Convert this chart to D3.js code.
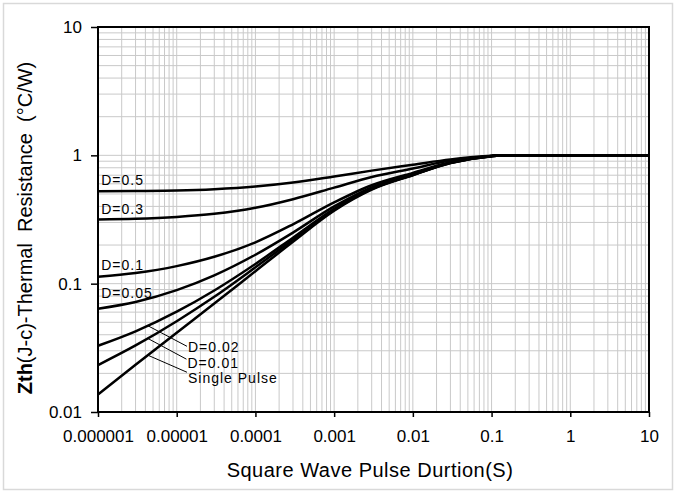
<!DOCTYPE html>
<html>
<head>
<meta charset="utf-8">
<title>Transient thermal impedance</title>
<script src="https://cdnjs.cloudflare.com/ajax/libs/d3/7.8.5/d3.min.js"></script>
<style>
body{
margin:0;
background:#fff
}
svg{
display:block;
font-family:"Liberation Sans", Arial, sans-serif
}
</style>
</head>
<body>
<svg width="676" height="493"></svg>

<script>

// pulse width (s)
var times = [0.000001, 0.000003, 0.00001, 0.00003, 0.0001, 0.0003, 0.001, 0.003, 0.01, 0.03, 0.1, 0.15, 1, 10]

// Zth (°C/W)
var d05    = [0.524, 0.527, 0.532, 0.545, 0.572, 0.615, 0.685, 0.76, 0.845, 0.93, 0.993, 1, 1, 1]
var d03    = [0.316, 0.32, 0.331, 0.35, 0.39, 0.455, 0.56, 0.677, 0.79, 0.91, 0.99, 1, 1, 1]
var d01    = [0.113, 0.121, 0.137, 0.162, 0.21, 0.29, 0.43, 0.585, 0.73, 0.883, 0.987, 1, 1, 1]
var d005   = [0.0638, 0.072, 0.089, 0.116, 0.168, 0.25, 0.40, 0.563, 0.715, 0.877, 0.986, 1, 1, 1]
var d002   = [0.0328, 0.0425, 0.0605, 0.0885, 0.1425, 0.228, 0.383, 0.55, 0.706, 0.873, 0.985, 1, 1, 1]
var d001   = [0.0232, 0.033, 0.051, 0.079, 0.134, 0.22, 0.376, 0.545, 0.703, 0.871, 0.985, 1, 1, 1]
var single = [0.0137, 0.0233, 0.0415, 0.070, 0.125, 0.212, 0.37, 0.54, 0.70, 0.87, 0.985, 1, 1, 1]

var seriesNames = ["D=0.5", "D=0.3", "D=0.1", "D=0.05", "D=0.02", "D=0.01", "Single Pulse"]
var seriesValues = [d05, d03, d01, d005, d002, d001, single]

var xTicks = [0.000001, 0.00001, 0.0001, 0.001, 0.01, 0.1, 1, 10]
var xTickLabels = ["0.000001", "0.00001", "0.0001", "0.001", "0.01", "0.1", "1", "10"]
var yTicks = [0.01, 0.1, 1, 10]
var yTickLabels = ["0.01", "0.1", "1", "10"]

// labels placed at the left edge, in data units
var leftLabels = [
	{text: "D=0.5",  t: 0.0000011, z: 0.583},
	{text: "D=0.3",  t: 0.0000011, z: 0.351},
	{text: "D=0.1",  t: 0.0000011, z: 0.127},
	{text: "D=0.05", t: 0.0000011, z: 0.0776}
]
// callouts: leader from curve (t0,z0) to (t1,z1), text baseline at zt
var callouts = [
	{text: "D=0.02",       t0: 0.0000043, z0: 0.047,  t1: 0.0000135, z1: 0.0325, zt: 0.0291},
	{text: "D=0.01",       t0: 0.0000043, z0: 0.0374, t1: 0.0000133, z1: 0.0258, zt: 0.0220},
	{text: "Single Pulse", t0: 0.0000043, z0: 0.0277, t1: 0.0000135, z1: 0.0204, zt: 0.0168}
]

var svg = d3.select("svg")
var mLeft = 98, mRight = 649, mTop = 27, mBottom = 412

var x = d3.scaleLog().domain([0.000001, 10]).range([mLeft, mRight])
var y = d3.scaleLog().domain([0.01, 10]).range([mBottom, mTop])

// outer frame of the picture
svg.append("rect")
	.attr("x", 3.5).attr("y", 3.5)
	.attr("width", 669).attr("height", 486)
	.attr("fill", "none")
	.attr("stroke", "#d9d9d9")
	.attr("stroke-width", 1.5)

// grid lines at 1..9 of each decade
var xGrid = []
for (var e = -6; e <= 0; e++) for (var k = 1; k <= 9; k++) xGrid.push(k * Math.pow(10, e))
xGrid.push(10)
var yGrid = []
for (var e = -2; e <= 0; e++) for (var k = 1; k <= 9; k++) yGrid.push(k * Math.pow(10, e))
yGrid.push(10)

var grid = svg.append("g")
	.attr("stroke", "#c9c9c9")
	.attr("stroke-width", 1)
grid.selectAll(".vx")
	.data(xGrid)
	.join("line")
	.attr("x1", d => x(d)).attr("x2", d => x(d))
	.attr("y1", mTop).attr("y2", mBottom)
grid.selectAll(".hy")
	.data(yGrid)
	.join("line")
	.attr("y1", d => y(d)).attr("y2", d => y(d))
	.attr("x1", mLeft).attr("x2", mRight)

// axes
var xAxis = d3.axisBottom(x)
	.tickValues(xTicks)
	.tickFormat((d, i) => xTickLabels[i])
	.tickSize(5)
	.tickSizeOuter(0)
	.tickPadding(13)
var yAxis = d3.axisLeft(y)
	.tickValues(yTicks)
	.tickFormat((d, i) => yTickLabels[i])
	.tickSize(7)
	.tickSizeOuter(0)
	.tickPadding(9)

var gx = svg.append("g").attr("transform", "translate(0," + mBottom + ")").call(xAxis)
var gy = svg.append("g").attr("transform", "translate(" + mLeft + ",0)").call(yAxis)
gx.select(".domain").remove()
gy.select(".domain").remove()
svg.selectAll(".tick line").attr("stroke", "#000").attr("stroke-width", 1.5)
svg.selectAll(".tick text")
	.attr("fill", "#000")
	.style("font-size", "17px")
	.style("font-family", "'Liberation Sans', Arial, sans-serif")

// plot frame
svg.append("rect")
	.attr("x", mLeft).attr("y", mTop)
	.attr("width", mRight - mLeft).attr("height", mBottom - mTop)
	.attr("fill", "none")
	.attr("stroke", "#000")
	.attr("stroke-width", 2)

// curves
var line = d3.line()
	.x((d, i) => x(times[i]))
	.y(d => y(d))
	.curve(d3.curveMonotoneX)

svg.append("g")
	.attr("fill", "none")
	.attr("stroke", "#000")
	.attr("stroke-width", 2.5)
	.selectAll("path")
	.data(seriesValues)
	.join("path")
	.attr("d", line)

// labels
svg.append("g")
	.selectAll("text")
	.data(leftLabels)
	.join("text")
	.attr("x", d => x(d.t))
	.attr("y", d => y(d.z))
	.attr("font-size", 14)
	.attr("letter-spacing", 1)
	.text(d => d.text)

var co = svg.append("g")
co.selectAll("line")
	.data(callouts)
	.join("line")
	.attr("x1", d => x(d.t0)).attr("y1", d => y(d.z0))
	.attr("x2", d => x(d.t1)).attr("y2", d => y(d.z1))
	.attr("stroke", "#000")
	.attr("stroke-width", 1)
co.selectAll("text")
	.data(callouts)
	.join("text")
	.attr("x", d => x(d.t1) + 1)
	.attr("y", d => y(d.zt))
	.attr("font-size", 14)
	.attr("letter-spacing", 1)
	.text(d => d.text)

// axis titles
svg.append("text")
	.attr("x", 370).attr("y", 477)
	.attr("text-anchor", "middle")
	.attr("font-size", 20)
	.attr("letter-spacing", 0.5)
	.text("Square Wave Pulse Durtion(S)")

var yt = svg.append("text")
	.attr("transform", "translate(32,228) rotate(-90)")
	.attr("text-anchor", "middle")
	.attr("font-size", 20)
	.style("white-space", "pre")
yt.append("tspan").attr("font-weight", "bold").text("Zth")
yt.append("tspan").text("(J-c)-Thermal  Resistance  (°C/W)")

</script>
</body>
</html>
